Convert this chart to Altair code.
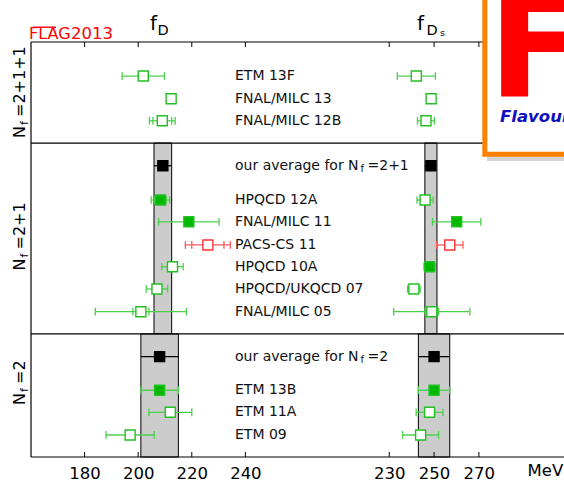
import altair as alt
import pandas as pd

# ---------------- data ----------------
LABELS = ["ETM 13F", "FNAL/MILC 13", "FNAL/MILC 12B", "our average for N",
          "HPQCD 12A", "FNAL/MILC 11", "PACS-CS 11", "HPQCD 10A",
          "HPQCD/UKQCD 07", "FNAL/MILC 05", "our average for N",
          "ETM 13B", "ETM 11A", "ETM 09"]
ROWS = [1.5, 2.5, 3.47, 5.45, 6.96, 7.92, 8.94, 9.9, 10.88, 11.88,
        13.86, 15.34, 16.31, 17.31]
STATUS = ["ok", "ok", "ok", "avg", "ok", "ok", "bad", "ok", "ok", "ok",
          "avg", "ok", "ok", "ok"]
FD = [201.9, 212.3, 209.0, 209.2, 208.3, 218.9, 226.0, 212.8, 207.0, 201.0,
      208.0, 208.0, 212.0, 197.0]
FD_ERR = [7.9, 1.0, 4.8, 3.3, 3.45, 11.3, 8.4, 4.0, 4.0, 17.0,
          7.0, 7.0, 8.0, 9.0]
FD_STAT = [0, 0, 3.5, 0, 2.2, 0, 6.0, 0, 0, 3.0, 0, 0, 0, 0]
FD_USED = [False, False, False, True, True, True, False, False, False, False,
           True, True, False, False]
FDS = [242.1, 248.7, 246.4, 248.6, 246.0, 260.1, 257.0, 248.0, 241.0, 249.0,
       250.0, 250.0, 248.0, 244.0]
FDS_ERR = [8.5, 1.0, 3.8, 2.7, 3.6, 10.8, 5.9, 2.5, 2.8, 17.0,
           7.0, 7.0, 6.0, 8.0]
FDS_STAT = [0, 0, 0.5, 0, 0, 0, 2.0, 0, 0, 3.0, 0, 0, 0, 0]
FDS_USED = [False, False, False, True, False, True, False, True, False, False,
            True, True, False, False]

AVG_INDEX = [3, 10]
PANEL_TOP = [4.45, 12.86]
PANEL_BOTTOM = [12.86, 18.28]
SEPARATORS = [4.45, 12.86]
D_TICKS = [180, 200, 220, 240]
DS_TICKS = [230, 250, 270]
D_DOMAIN = [160.0, 358.9]
DS_DOMAIN = [70.1, 308.0]

# ---------------- layout ----------------
PADL, PADT, W, H = 31, 42, 533, 415
YMAX = 18.28
PX = H / YMAX
CAP = 0.17
FONT = "DejaVu Sans"

recs = []
for i in range(len(LABELS)):
    for q, v, e, s, u in [("D", FD[i], FD_ERR[i], FD_STAT[i], FD_USED[i]),
                          ("Ds", FDS[i], FDS_ERR[i], FDS_STAT[i], FDS_USED[i])]:
        recs.append(dict(label=LABELS[i], row=ROWS[i], status=STATUS[i], qty=q,
                         val=v, err=e, stat=s, used=u))
df = pd.DataFrame(recs)

brec = []
for k, i in enumerate(AVG_INDEX):
    brec.append(dict(qty="D", lo=FD[i] - FD_ERR[i], hi=FD[i] + FD_ERR[i],
                     top=PANEL_TOP[k], bot=PANEL_BOTTOM[k]))
    brec.append(dict(qty="Ds", lo=FDS[i] - FDS_ERR[i], hi=FDS[i] + FDS_ERR[i],
                     top=PANEL_TOP[k], bot=PANEL_BOTTOM[k]))
bands = pd.DataFrame(brec)

ONE = pd.DataFrame({"k": [0]})
ys = alt.Scale(domain=[0, YMAX], reverse=True, nice=False, zero=False)

line_scale = alt.Scale(domain=["ok", "bad", "avg"], range=["#4ccf4c", "#ff5a5a", "#000000"])
stroke_scale = alt.Scale(domain=["ok", "bad", "avg"], range=["#22c022", "#ff3333", "#000000"])
fill_scale = alt.Scale(domain=["ok", "bad", "avg", "open"],
                       range=["#00b800", "#ff3333", "#000000", "#ffffff"])


def group(qty, domain, ticks):
    xs = alt.Scale(domain=domain, nice=False, zero=False)
    ax = alt.Axis(values=ticks, orient="bottom", domain=False, ticks=False, tickSize=0,
                  grid=False, labelFontSize=16.5, labelFont=FONT, labelColor="black",
                  labelPadding=8.5, title=None, labelFlush=False, labelOverlap=False)

    def X(f):
        return alt.X(f, scale=xs, axis=ax, title=None)

    base = alt.Chart(df).transform_filter(alt.datum.qty == qty).transform_calculate(
        lo="datum.val - datum.err", hi="datum.val + datum.err",
        slo="datum.val - datum.stat", shi="datum.val + datum.stat",
        ya=f"datum.row - {CAP}", yb=f"datum.row + {CAP}",
        fk="datum.used ? datum.status : 'open'")
    band = alt.Chart(bands[bands.qty == qty]).mark_rect(
        fill="#cccccc", stroke="#000000", strokeWidth=1).encode(
        x=X("lo:Q"), x2="hi:Q",
        y=alt.Y("top:Q", scale=ys, axis=None), y2="bot:Q")
    line = base.mark_rule(strokeWidth=1.3).encode(
        x=X("lo:Q"), x2="hi:Q",
        y=alt.Y("row:Q", scale=ys, axis=None),
        color=alt.Color("status:N", scale=line_scale, legend=None))
    capb = base.transform_filter("datum.status != 'avg'")
    cap_lo = capb.mark_rule(strokeWidth=1.3).encode(
        x=X("lo:Q"),
        y=alt.Y("ya:Q", scale=ys, axis=None), y2="yb:Q",
        color=alt.Color("status:N", scale=line_scale, legend=None))
    cap_hi = capb.mark_rule(strokeWidth=1.3).encode(
        x=X("hi:Q"),
        y=alt.Y("ya:Q", scale=ys, axis=None), y2="yb:Q",
        color=alt.Color("status:N", scale=line_scale, legend=None))
    sb = base.transform_filter("datum.stat > 0")
    st_lo = sb.mark_rule(strokeWidth=1.3).encode(
        x=X("slo:Q"),
        y=alt.Y("ya:Q", scale=ys, axis=None), y2="yb:Q",
        color=alt.Color("status:N", scale=line_scale, legend=None))
    st_hi = sb.mark_rule(strokeWidth=1.3).encode(
        x=X("shi:Q"),
        y=alt.Y("ya:Q", scale=ys, axis=None), y2="yb:Q",
        color=alt.Color("status:N", scale=line_scale, legend=None))
    sq = base.mark_square(size=100, strokeWidth=1.4, opacity=1).encode(
        x=X("val:Q"),
        y=alt.Y("row:Q", scale=ys, axis=None),
        fill=alt.Fill("fk:N", scale=fill_scale, legend=None),
        stroke=alt.Stroke("status:N", scale=stroke_scale, legend=None))
    tdf = pd.DataFrame({"t": ticks})
    tick_b = alt.Chart(tdf).mark_rule(color="black", strokeWidth=1).encode(
        x=X("t:Q"), y=alt.value(H - 5), y2=alt.value(H))
    tick_t = alt.Chart(tdf).mark_rule(color="black", strokeWidth=1).encode(
        x=X("t:Q"), y=alt.value(0), y2=alt.value(5))
    return alt.layer(band, line, cap_lo, cap_hi, st_lo, st_hi, sq, tick_b, tick_t)


def T(s, x, y, size, color="black", angle=0, align="left", font=FONT,
      weight="normal", style="normal", baseline="alphabetic"):
    return alt.Chart(ONE).mark_text(
        text=s, fontSize=size, font=font, color=color, angle=angle, align=align,
        baseline=baseline, fontWeight=weight, fontStyle=style).encode(
        x=alt.value(x - PADL), y=alt.value(y - PADT))


def R(x1, y1, x2, y2, color="black", width=1.2):
    return alt.Chart(ONE).mark_rule(color=color, strokeWidth=width).encode(
        x=alt.value(x1 - PADL), y=alt.value(y1 - PADT),
        x2=alt.value(x2 - PADL), y2=alt.value(y2 - PADT))


gD = group("D", D_DOMAIN, D_TICKS)
gS = group("Ds", DS_DOMAIN, DS_TICKS)

frame = [R(PADL, PADT, PADL + W, PADT), R(PADL, PADT + H, PADL + W, PADT + H),
         R(PADL, PADT, PADL, PADT + H)]
seps = alt.Chart(pd.DataFrame({"s": SEPARATORS})).mark_rule(
    color="black", strokeWidth=1.2).encode(
    y=alt.Y("s:Q", scale=ys, axis=None), x=alt.value(0), x2=alt.value(W))

labels_df = df[df.qty == "D"][["label", "row"]]
row_labels = alt.Chart(labels_df).mark_text(
    align="left", baseline="middle", fontSize=14.0, font=FONT, color="#111111").encode(
    x=alt.value(235 - PADL), y=alt.Y("row:Q", scale=ys, axis=None), text="label:N")

texts = []
for i, tail in zip(AVG_INDEX, ["=2+1", "=2"]):
    yc = PADT + ROWS[i] * PX
    texts.append(T("f", 360.5, yc + 3.5, 10, color="#111111", baseline="middle"))
    texts.append(T(tail, 367.5, yc, 14.0, color="#111111", baseline="middle"))

# titles
texts += [T("f", 150, 30, 20), T("D", 157.5, 34.7, 14.5),
          T("f", 417, 30, 20), T("D", 426.5, 34.7, 14.5), T("s", 440, 35.5, 9.5)]
# FLAG 2013
texts += [T("FLAG", 29, 39, 16, color="#ff0000"), T("2013", 71, 39, 16.5, color="#ff0000"),
          R(33, 27.2, 56, 27.2, color="#ff0000", width=1.4)]
# MeV
texts += [T("MeV", 527.5, 476, 16.5)]
# rotated panel labels
for s0, tail in [(138, "=2+1+1"), (270.5, "=2+1"), (405, "=2")]:
    texts.append(T("N", 25, s0, 16, angle=270))
    texts.append(T("f", 28, s0 - 13, 11, angle=270))
    texts.append(T(tail, 25, s0 - 21, 16, angle=270))

# logo
logo = [
    alt.Chart(ONE).mark_rect(fill="#888888", opacity=0.35).encode(
        x=alt.value(456), x2=alt.value(640), y=alt.value(-80), y2=alt.value(119)),
    alt.Chart(ONE).mark_rect(fill="white", stroke="#ff7f00", strokeWidth=5).encode(
        x=alt.value(484.8 - PADL), x2=alt.value(640), y=alt.value(-80), y2=alt.value(154.2 - PADT)),
    T("F", 488, 97, 143.5, color="#ff0000", weight="bold"),
    T("Flavour Lattice Averaging Group", 500, 122, 16.5, color="#1010c0",
      weight="bold", style="italic"),
]

chart = alt.layer(gD, gS, *frame, seps, row_labels, *texts, *logo).resolve_scale(
    x="independent").properties(
    width=W, height=H, autosize="none",
    padding={"left": PADL, "top": PADT, "right": 0, "bottom": 25}).configure_view(stroke=None)

chart.save("out.html", embed_options={"renderer": "svg", "actions": False})
